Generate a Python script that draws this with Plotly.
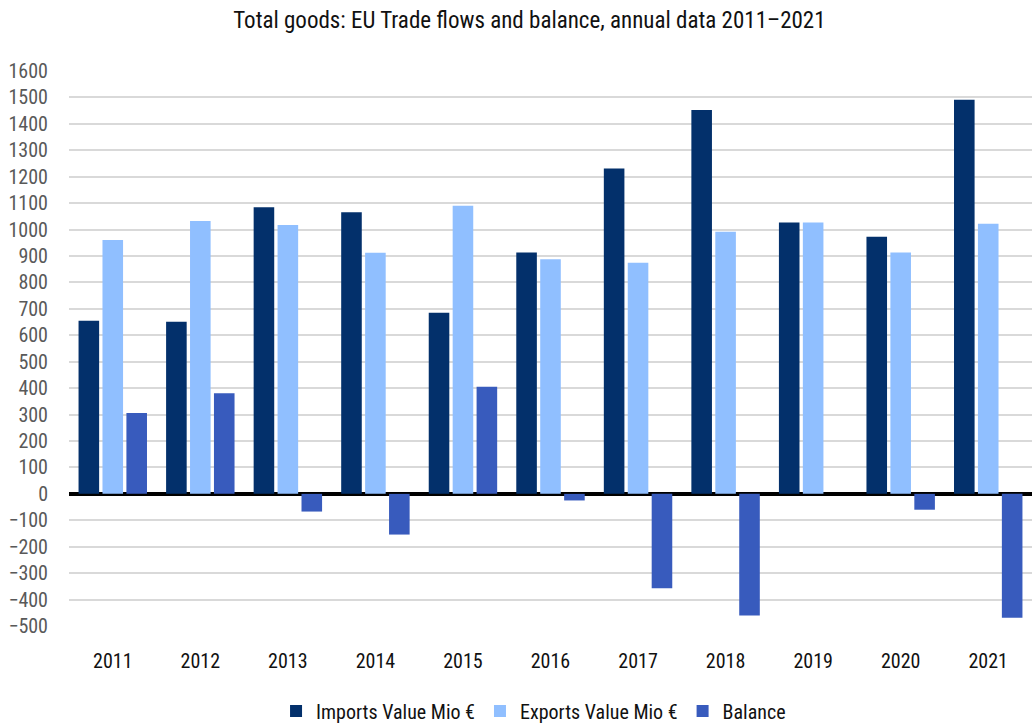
import plotly.graph_objects as go

years = ["2011", "2012", "2013", "2014", "2015", "2016", "2017", "2018", "2019", "2020", "2021"]
imports_vals = [655, 651, 1084, 1066, 685, 913, 1231, 1452, 1027, 973, 1491]
exports_vals = [961, 1032, 1017, 912, 1090, 888, 874, 992, 1027, 913, 1022]
balance_vals = [306, 381, -67, -154, 405, -25, -357, -460, 0, -60, -469]

tick_vals = list(range(-500, 1700, 100))

FONT = "Liberation Sans Narrow, Arial Narrow, Roboto Condensed, Roboto, sans-serif"

fig = go.Figure()
fig.add_trace(go.Bar(name="Imports Value Mio €", x=years, y=imports_vals,
                     marker=dict(color="#03306b", line=dict(width=0))))
fig.add_trace(go.Bar(name="Exports Value Mio €", x=years, y=exports_vals,
                     marker=dict(color="#90bfff", line=dict(width=0))))
fig.add_trace(go.Bar(name="Balance", x=years, y=balance_vals,
                     marker=dict(color="#385bbd", line=dict(width=0))))

fig.update_layout(
    width=1032, height=726,
    margin=dict(l=69, r=0, t=71, b=100),
    paper_bgcolor="white", plot_bgcolor="white",
    barmode="group", bargap=0.18, bargroupgap=0.14,
    font=dict(family=FONT, color="#222222"),
    title=dict(text="Total goods: EU Trade flows and balance, annual data 2011–2021",
               x=0.513, xref="container", xanchor="center",
               y=1 - 20 / 726, yref="container", yanchor="middle",
               font=dict(size=23, color="#111111", family=FONT)),
    legend=dict(orientation="h", x=0.517, xref="container", xanchor="center",
                y=1 - 711 / 726, yref="container", yanchor="middle",
                font=dict(size=20, color="#111111", family=FONT),
                itemsizing="constant", traceorder="normal"),
    showlegend=True,
)
fig.update_xaxes(showgrid=False, showline=False, ticks="",
                 tickfont=dict(size=20, color="#111111", family=FONT),
                 ticklabelstandoff=21)
fig.update_yaxes(range=[-500, 1600], tickvals=tick_vals,
                 showgrid=True, gridcolor="#d9d9d9", gridwidth=1.5,
                 zeroline=True, zerolinecolor="#000000", zerolinewidth=4,
                 showline=False, ticks="",
                 tickfont=dict(size=20, color="#595959", family=FONT),
                 ticklabelstandoff=20)

fig.write_html("out.html")
